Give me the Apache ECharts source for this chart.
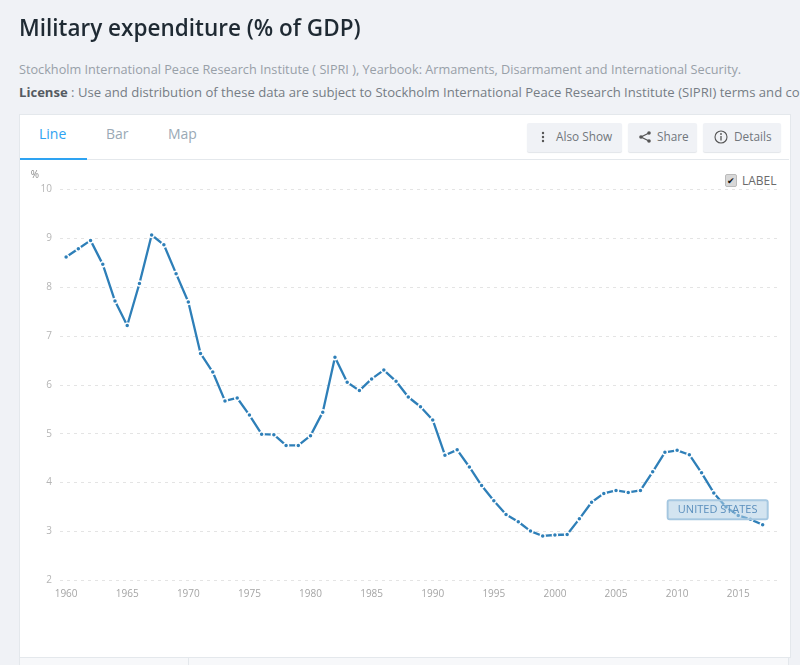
<!DOCTYPE html>
<html>
<head>
<meta charset="utf-8">
<script src="https://cdn.jsdelivr.net/npm/echarts@6/dist/echarts.min.js"></script>
<style>
  html, body { margin: 0; padding: 0; width: 800px; height: 665px; overflow: hidden; background: #f0f2f6; font-family: "Open Sans", sans-serif; }
  .abs { position: absolute; white-space: nowrap; }
  #source { left: 19px; top: 60px; font-size: 12.7px; color: #98a0a8; }
  #license { left: 19px; top: 83px; font-size: 13.1px; color: #767d85; width: 781px; overflow: hidden; }
  #license b { color: #555b62; }
  #card { left: 19px; top: 114px; width: 770px; height: 542px; background: #fff; border: 1px solid #e4e8ec; }
  #tabline { left: 20px; top: 159px; width: 769px; height: 1px; background: #e4e8ec; }
  #tabmark { left: 20px; top: 158px; width: 67px; height: 2px; background: #2ea3f2; }
  .tab { top: 124px; font-size: 14px; color: #9aa9b5; }
  .btn { top: 123px; height: 29px; line-height: 27px; background: #f0f2f6; border-radius: 2px; box-shadow: 0 1px 1px #e2e5e9; font-size: 11.8px; color: #70767c; box-sizing: border-box; }
  .btn svg { position: absolute; top: 7px; }
  #foot { left: 19px; top: 657px; width: 770px; height: 8px; background: #f7f8fa; border: 1px solid #e4e8ec; border-bottom: 0; box-sizing: border-box; }
  #footdiv { left: 188px; top: 657px; width: 1px; height: 8px; background: #e4e8ec; }
  #check { left: 725px; top: 174px; width: 10px; height: 11px; background: #d8d8d8; border: 1px solid #bbb; border-radius: 2px; font-size: 9px; line-height: 11px; text-align: center; color: #111; }
  #checktext { left: 742px; top: 172px; font-size: 12px; color: #6a6a6a; }
  #chart { position: absolute; left: 0; top: 0; width: 800px; height: 665px; }
</style>
</head>
<body>
<div class="abs" id="source">Stockholm International Peace Research Institute ( SIPRI ), Yearbook: Armaments, Disarmament and International Security.</div>
<div class="abs" id="license"><b>License</b> : Use and distribution of these data are subject to Stockholm International Peace Research Institute (SIPRI) terms and conditions.</div>
<div class="abs" id="card"></div>
<div class="abs" id="tabline"></div>
<div class="abs" id="tabmark"></div>
<div class="abs tab" style="left:39px;color:#2ea3f2">Line</div>
<div class="abs tab" style="left:106px">Bar</div>
<div class="abs tab" style="left:168px">Map</div>
<div class="abs btn" style="left:527px;width:95px;padding-left:29px">
  <svg style="left:10px" width="12" height="14" viewBox="0 0 12 14"><circle cx="6" cy="3" r="1.2" fill="#555"/><circle cx="6" cy="7" r="1.2" fill="#555"/><circle cx="6" cy="11" r="1.2" fill="#555"/></svg>Also Show</div>
<div class="abs btn" style="left:628px;width:69px;padding-left:29px">
  <svg style="left:10px" width="14" height="14" viewBox="0 0 14 14"><path d="M11 3 L3 7 L11 11" fill="none" stroke="#555" stroke-width="1.2"/><circle cx="11" cy="3" r="1.8" fill="#555"/><circle cx="3" cy="7" r="1.8" fill="#555"/><circle cx="11" cy="11" r="1.8" fill="#555"/></svg>Share</div>
<div class="abs btn" style="left:703px;width:78px;padding-left:31px">
  <svg style="left:11px" width="14" height="14" viewBox="0 0 14 14"><circle cx="7" cy="7" r="6" fill="none" stroke="#555" stroke-width="1.1"/><path d="M7 6 V10.5" stroke="#555" stroke-width="1.3"/><circle cx="7" cy="4" r="0.9" fill="#555"/></svg>Details</div>
<div class="abs" id="check">&#10004;</div>
<div class="abs" id="checktext">LABEL</div>
<div class="abs" id="foot"></div>
<div class="abs" id="footdiv"></div>
<div id="chart"></div>
<script>
// 2018 stays empty: the axis runs one step past the last value
const years = []
for (let y = 1960; y <= 2018; y++) years.push(String(y))

const usValues = [
  8.61, 8.78, 8.95, 8.46, 7.71, 7.21, 8.07, 9.06, 8.86, 8.27,
  7.69, 6.64, 6.26, 5.67, 5.73, 5.38, 4.99, 4.98, 4.76, 4.76,
  4.96, 5.44, 6.56, 6.05, 5.88, 6.12, 6.30, 6.07, 5.75, 5.55,
  5.28, 4.56, 4.67, 4.32, 3.94, 3.63, 3.35, 3.20, 3.01, 2.91,
  2.93, 2.94, 3.26, 3.60, 3.78, 3.84, 3.80, 3.84, 4.22, 4.62,
  4.66, 4.57, 4.20, 3.79, 3.50, 3.33, 3.25, 3.14, null
]
const seriesName = 'UNITED STATES'
const yTicks = { min: 2, max: 10, step: 1 }

const chart = echarts.init(document.getElementById('chart'))
chart.setOption({
  animation: false,
  backgroundColor: 'transparent',
  title: {
    text: 'Military expenditure (% of GDP)',
    left: 19,
    top: 18,
    padding: 0,
    textStyle: { fontFamily: 'Open Sans', fontSize: 22.5, fontWeight: 600, color: '#1f2a33' }
  },
  grid: { left: 60, right: 19, top: 189, bottom: 84.5 },
  xAxis: {
    type: 'category',
    data: years,
    axisLine: { show: false },
    axisTick: { alignWithLabel: true, interval: 4, length: 4, lineStyle: { color: '#cccccc' } },
    axisLabel: { interval: 4, margin: 9, fontFamily: 'Open Sans', fontSize: 10, color: '#a5a5a5' },
    splitLine: { show: false }
  },
  yAxis: {
    type: 'value',
    min: yTicks.min,
    max: yTicks.max,
    interval: yTicks.step,
    name: '%',
    nameLocation: 'end',
    nameGap: 9,
    nameTextStyle: { fontFamily: 'Open Sans', fontSize: 10, color: '#888888', align: 'right', padding: [0, 21, 0, 0] },
    axisLine: { show: false },
    axisTick: { show: false },
    axisLabel: { margin: 8, fontFamily: 'Open Sans', fontSize: 10, color: '#b5b5b5' },
    splitLine: { lineStyle: { type: [3, 4], color: '#e4e4e4', width: 1 } }
  },
  series: [{
    name: seriesName,
    type: 'line',
    data: usValues,
    connectNulls: false,
    symbol: 'circle',
    symbolSize: 5,
    showSymbol: true,
    showAllSymbols: true,
    itemStyle: { color: '#2e7fb8', borderColor: '#ffffff', borderWidth: 1.5 },
    lineStyle: { color: '#2e7fb8', width: 2.3 },
    endLabel: {
      show: true,
      formatter: seriesName,
      position: 'left',
      offset: [-53, -15],
      width: 100,
      height: 19,
      align: 'center',
      verticalAlign: 'middle',
      lineHeight: 19,
      fontFamily: 'Open Sans',
      fontSize: 11,
      color: '#5b8fbd',
      backgroundColor: 'rgba(175,205,228,0.55)',
      borderColor: '#a3c6e0',
      borderWidth: 1,
      borderRadius: 2
    }
  }]
})
</script>
</body>
</html>
